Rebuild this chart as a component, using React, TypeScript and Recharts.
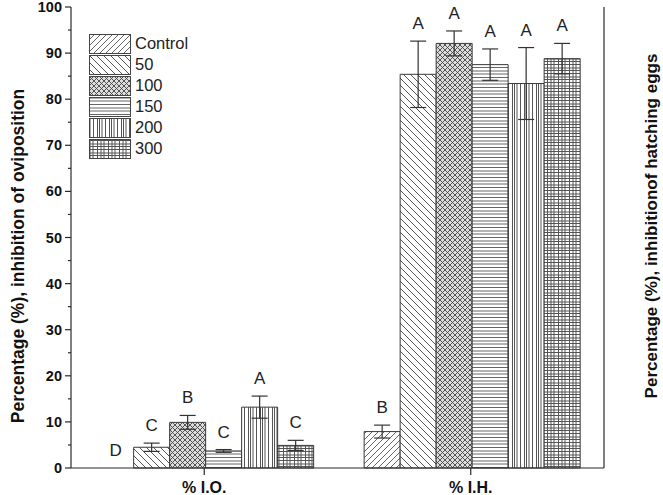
import { BarChart, Bar, XAxis, YAxis, ErrorBar, LabelList } from "recharts";

const categories = ["% I.O.", "% I.H."];
const treatments = ["Control", "50", "100", "150", "200", "300"];
const ioMeans = [0, 4.5, 9.9, 3.7, 13.2, 4.9];
const ioErrors = [0, 0.9, 1.5, 0.3, 2.4, 1.1];
const ioLetters = ["D", "C", "B", "C", "A", "C"];
const ihMeans = [7.9, 85.4, 92.1, 87.5, 83.4, 88.8];
const ihErrors = [1.4, 7.2, 2.7, 3.4, 7.8, 3.3];
const ihLetters = ["B", "A", "A", "A", "A", "A"];
const yTicks = [0, 5, 10, 15, 20, 25, 30, 35, 40, 45, 50, 55, 60, 65, 70, 75, 80, 85, 90, 95, 100];

const means = [ioMeans, ihMeans];
const errors = [ioErrors, ihErrors];
const letters = [ioLetters, ihLetters];

const data = categories.map((cat, ci) => {
  const row: Record<string, string | number> = { cat };
  treatments.forEach((_, ti) => {
    row[`m${ti}`] = means[ci][ti];
    row[`e${ti}`] = errors[ci][ti];
    row[`l${ti}`] = letters[ci][ti];
  });
  return row;
});

const W = 663;
const H = 495;
const TOP = 7;
const BOTTOM = 27;
const PX = (H - TOP - BOTTOM) / 100; // pixels per unit
const INK = "#2a2a2a";
const FONT = "'Liberation Sans', Arial, sans-serif";

const LeftTick = ({ x, y, payload }: any) => {
  const major = payload.value % 10 === 0;
  return (
    <g>
      <line x1={x} x2={x - (major ? 6 : 3)} y1={y} y2={y} stroke={INK} strokeWidth={1.2} />
      {major && (
        <text x={x - 9} y={y} dy={5} textAnchor="end" fontSize={14.5} fontWeight="bold" fill="#111" fontFamily={FONT}>
          {payload.value}
        </text>
      )}
    </g>
  );
};

const RightTick = ({ x, y, payload }: any) => {
  const major = payload.value % 10 === 0;
  return (
    <g>
      <line x1={x} x2={x + (major ? 6 : 3)} y1={y} y2={y} stroke={INK} strokeWidth={1.2} />
      {major && (
        <text x={x + 9} y={y} dy={5} textAnchor="start" fontSize={14.5} fontWeight="bold" fill="#111" fontFamily={FONT}>
          {payload.value}
        </text>
      )}
    </g>
  );
};

const BottomTick = ({ x, y, payload }: any) => (
  <g>
    <line x1={x} x2={x} y1={y} y2={y + 7} stroke={INK} strokeWidth={1.2} />
    <text x={x} y={y + 25} textAnchor="middle" fontSize={16} fontWeight="bold" fill="#111" fontFamily={FONT}>
      {payload.value}
    </text>
  </g>
);

const letterText = (cx: number, yTop: number, err: number, value: string, key?: string) => (
  <text key={key} x={cx} y={yTop - err * PX - 12} textAnchor="middle" fontSize={17} fill="#222" fontFamily={FONT}>
    {value}
  </text>
);

// bar 1 also carries bar 0's letter (a zero-height bar gets no label of its own)
const letterLabel = (ti: number) => (props: any) => {
  const { x, y, width, index, value } = props;
  const row = data[index];
  const own = letterText(x + width / 2, y, Number(row[`e${ti}`]), value, "own");
  if (ti !== 1) return own;
  const m0 = Number(row.m0);
  const baseY = y + Number(row.m1) * PX;
  return (
    <g>
      {own}
      {letterText(x - width / 2, baseY - m0 * PX, Number(row.e0), String(row.l0), "first")}
    </g>
  );
};

const LegendBox = () => (
  <div style={{ position: "absolute", left: 89, top: 33, fontFamily: FONT, fontSize: 16.5, color: "#222" }}>
    {treatments.map((t, i) => (
      <div key={t} style={{ display: "flex", alignItems: "center", height: 21 }}>
        <svg width={42} height={20} style={{ display: "block" }}>
          <rect x={0.5} y={0.5} width={41} height={19} fill={`url(#pat${i})`} stroke="#444" />
        </svg>
        <span style={{ marginLeft: 4 }}>{t}</span>
      </div>
    ))}
  </div>
);

const Patterns = () => (
  <defs>
    <pattern id="pat0" width={6} height={6} patternUnits="userSpaceOnUse">
      <rect width={6} height={6} fill="#fff" />
      <path d="M0,6 L6,0 M-1,1 L1,-1 M5,7 L7,5" stroke="#666" strokeWidth={1} />
    </pattern>
    <pattern id="pat1" width={7} height={7} patternUnits="userSpaceOnUse">
      <rect width={7} height={7} fill="#fff" />
      <path d="M0,0 L7,7 M-1,6 L1,8 M6,-1 L8,1" stroke="#555" strokeWidth={1} />
    </pattern>
    <pattern id="pat2" width={5} height={5} patternUnits="userSpaceOnUse">
      <rect width={5} height={5} fill="#ddd" />
      <path d="M0,0 L5,5 M-1,4 L1,6 M4,-1 L6,1 M0,5 L5,0 M-1,1 L1,-1 M4,6 L6,4" stroke="#444" strokeWidth={0.9} />
    </pattern>
    <pattern id="pat3" width={10} height={10} patternUnits="userSpaceOnUse">
      <rect width={10} height={10} fill="#fff" />
      <path d="M0,1 L10,1 M0,4 L10,4 M0,7.5 L10,7.5" stroke="#666" strokeWidth={1} />
    </pattern>
    <pattern id="pat4" width={12} height={10} patternUnits="userSpaceOnUse">
      <rect width={12} height={10} fill="#fff" />
      <path d="M1,0 L1,10 M4.5,0 L4.5,10 M8.5,0 L8.5,10 M10.5,0 L10.5,10" stroke="#555" strokeWidth={1} />
    </pattern>
    <pattern id="pat5" width={11} height={9} patternUnits="userSpaceOnUse">
      <rect width={11} height={9} fill="#fff" />
      <path d="M1,0 L1,9 M4,0 L4,9 M8.5,0 L8.5,9 M0,1.5 L11,1.5 M0,5 L11,5 M0,7.5 L11,7.5" stroke="#555" strokeWidth={1} />
    </pattern>
  </defs>
);

const titleStyle = { fontWeight: "bold", fill: "#111", fontFamily: FONT } as const;

export default function App() {
  return (
    <div style={{ position: "absolute", left: 0, top: 0, width: W, height: H, background: "#fff" }}>
      <BarChart
        width={W}
        height={H}
        data={data}
        margin={{ top: TOP, right: 0, left: 0, bottom: 0 }}
        barCategoryGap="10%"
        barGap={0}
      >
        <Patterns />
        <XAxis
          dataKey="cat"
          height={BOTTOM}
          axisLine={{ stroke: INK, strokeWidth: 1.2 }}
          tickLine={false}
          tickSize={0}
          tickMargin={0}
          tick={<BottomTick />}
        />
        <YAxis
          yAxisId="left"
          width={71}
          domain={[0, 100]}
          ticks={yTicks}
          interval={0}
          axisLine={{ stroke: INK, strokeWidth: 1.2 }}
          tickLine={false}
          tickSize={0}
          tickMargin={0}
          tick={<LeftTick />}
          label={{
            content: () => (
              <text x={18} y={256} transform="rotate(-90 18 256)" textAnchor="middle" dominantBaseline="central" fontSize={17.5} {...titleStyle}>
                Percentage (%), inhibition of oviposition
              </text>
            ),
          }}
        />
        <YAxis
          yAxisId="right"
          orientation="right"
          width={59}
          domain={[0, 100]}
          ticks={yTicks}
          interval={0}
          axisLine={{ stroke: INK, strokeWidth: 1.2 }}
          tickLine={false}
          tickSize={0}
          tickMargin={0}
          tick={<RightTick />}
          label={{
            content: () => (
              <text x={651} y={226} transform="rotate(-90 651 226)" textAnchor="middle" dominantBaseline="central" fontSize={17} {...titleStyle}>
                Percentage (%), inhibitionof hatching eggs
              </text>
            ),
          }}
        />
        {treatments.map((t, ti) => (
          <Bar
            key={t}
            yAxisId="left"
            dataKey={`m${ti}`}
            name={t}
            fill={`url(#pat${ti})`}
            stroke="#3a3a3a"
            strokeWidth={1}
            isAnimationActive={false}
          >
            <ErrorBar dataKey={`e${ti}`} width={8} stroke="#333" strokeWidth={1.2} />
            {ti !== 0 && <LabelList dataKey={`l${ti}`} content={letterLabel(ti)} />}
          </Bar>
        ))}
      </BarChart>
      <LegendBox />
    </div>
  );
}
